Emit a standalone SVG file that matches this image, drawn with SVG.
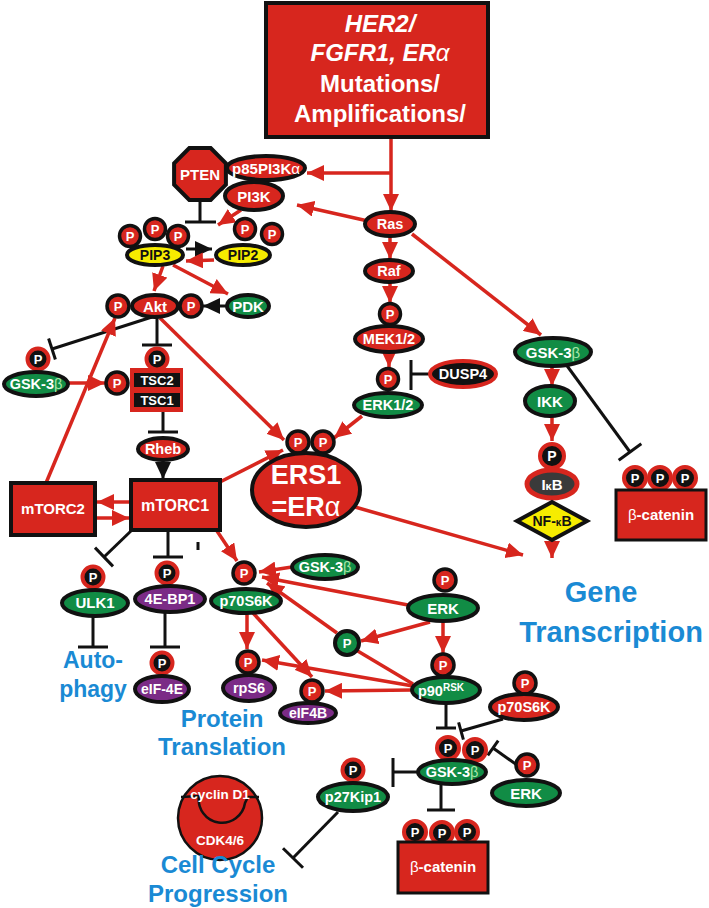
<svg xmlns="http://www.w3.org/2000/svg" width="709" height="908" viewBox="0 0 709 908">
<defs>
<marker id="ar" markerUnits="userSpaceOnUse" markerWidth="18" markerHeight="16" refX="17" refY="8" orient="auto"><path d="M0,0 L17,8 L0,16 z" fill="#d7261e"/></marker>
<marker id="ab" markerUnits="userSpaceOnUse" markerWidth="18" markerHeight="16" refX="17" refY="8" orient="auto"><path d="M0,0 L17,8 L0,16 z" fill="#111"/></marker>
<style>
.t{font-family:'Liberation Sans',Arial,sans-serif;font-weight:bold;fill:#fff;text-anchor:middle}
.k{fill:#111}
.n{font-weight:normal}
.bl{font-family:'Liberation Sans',Arial,sans-serif;font-weight:bold;fill:#1a8ad4;text-anchor:middle}
.red{fill:#d7261e;stroke:#111;stroke-width:4}
.grn{fill:#118c45;stroke:#111;stroke-width:4}
.pur{fill:#7b2b86;stroke:#111;stroke-width:4}
.yel{fill:#f6ec00;stroke:#111;stroke-width:4}
.pr{fill:#d7261e;stroke:#111;stroke-width:3.5}
.pb{fill:#111;stroke:#d7261e;stroke-width:4}
.lr{stroke:#d7261e;stroke-width:3.5;fill:none}
.lk{stroke:#111;stroke-width:3;fill:none}
</style>
</defs>
<rect width="709" height="908" fill="#fff"/>

<g id="connectors">
<line class="lr" x1="391" y1="137" x2="391" y2="211" marker-end="url(#ar)"/>
<line class="lr" x1="391" y1="173" x2="307" y2="173" marker-end="url(#ar)"/>
<line class="lr" x1="368" y1="221" x2="297" y2="205" marker-end="url(#ar)"/>
<line class="lr" x1="241" y1="210" x2="218" y2="225" marker-end="url(#ar)"/>
<line class="lk" x1="200" y1="202" x2="200" y2="222"/><line class="lk" x1="185" y1="222" x2="216" y2="222"/>
<line class="lk" x1="186" y1="249" x2="212" y2="249" stroke-width="4" marker-end="url(#ab)"/>
<line class="lr" x1="214" y1="260" x2="186" y2="261" marker-end="url(#ar)"/>
<line class="lr" x1="163" y1="266" x2="154" y2="291" marker-end="url(#ar)"/>
<line class="lr" x1="173" y1="265" x2="228" y2="294" marker-end="url(#ar)"/>
<line class="lk" x1="226" y1="306" x2="203" y2="306" marker-end="url(#ab)"/>
<line class="lk" x1="152" y1="317" x2="52" y2="349"/><line class="lk" x1="48.6" y1="338.5" x2="55.4" y2="359.5"/>
<line class="lk" x1="157" y1="318" x2="157" y2="345"/><line class="lk" x1="142" y1="345" x2="172" y2="345"/>
<line class="lr" x1="68" y1="383" x2="105" y2="383" marker-end="url(#ar)"/>
<line class="lk" x1="163" y1="412" x2="163" y2="432"/><line class="lk" x1="148" y1="432" x2="178" y2="432"/>
<line class="lk" x1="163" y1="460" x2="163" y2="479" marker-end="url(#ab)"/>
<line class="lr" x1="46" y1="483" x2="115" y2="318" marker-end="url(#ar)"/>
<line class="lr" x1="160" y1="318" x2="284" y2="440" marker-end="url(#ar)"/>
<line class="lr" x1="220" y1="482" x2="283" y2="450" marker-end="url(#ar)"/>
<line class="lr" x1="129" y1="502" x2="97" y2="502" marker-end="url(#ar)"/>
<line class="lr" x1="96" y1="518" x2="129" y2="518" marker-end="url(#ar)"/>
<line class="lr" x1="362" y1="416" x2="334" y2="438" marker-end="url(#ar)"/>
<line class="lr" x1="355" y1="507" x2="523" y2="555" marker-end="url(#ar)"/>
<line class="lr" x1="390" y1="236" x2="390" y2="259" marker-end="url(#ar)"/>
<line class="lr" x1="390" y1="282" x2="390" y2="303" marker-end="url(#ar)"/>
<line class="lr" x1="389" y1="352" x2="389" y2="367" marker-end="url(#ar)"/>
<line class="lk" x1="430" y1="374" x2="411" y2="374"/><line class="lk" x1="411" y1="360" x2="411" y2="390"/>
<line class="lr" x1="412" y1="234" x2="541" y2="335" marker-end="url(#ar)"/>
<line class="lr" x1="552" y1="366" x2="552" y2="386" marker-end="url(#ar)"/>
<line class="lk" x1="565" y1="363" x2="630" y2="452"/><line class="lk" x1="618.7" y1="460.3" x2="641.3" y2="443.7"/>
<line class="lr" x1="552" y1="416" x2="552" y2="441" marker-end="url(#ar)"/>
<line class="lr" x1="552" y1="540" x2="552" y2="558" marker-end="url(#ar)"/>
<line class="lk" x1="132" y1="530" x2="104" y2="557"/><line class="lk" x1="95" y1="547.6" x2="113" y2="566.4"/>
<line class="lk" x1="168" y1="530" x2="168" y2="557"/><line class="lk" x1="153" y1="557" x2="183" y2="557"/>
<line class="lk" x1="198" y1="542" x2="198" y2="550" stroke-width="1.5"/>
<line class="lr" x1="217" y1="531" x2="237" y2="561" marker-end="url(#ar)"/>
<line class="lr" x1="292" y1="567" x2="259" y2="572" marker-end="url(#ar)"/>
<line class="lr" x1="408" y1="605" x2="262" y2="577" marker-end="url(#ar)"/>
<line class="lr" x1="337" y1="633" x2="267" y2="583" marker-end="url(#ar)"/>
<line class="lr" x1="430" y1="622" x2="361" y2="641" marker-end="url(#ar)"/>
<line class="lr" x1="443" y1="622" x2="443" y2="653" marker-end="url(#ar)"/>
<line class="lr" x1="413" y1="684" x2="356" y2="650"/>
<line class="lr" x1="247" y1="613" x2="247" y2="649" marker-end="url(#ar)"/>
<line class="lr" x1="253" y1="613" x2="312" y2="677" marker-end="url(#ar)"/>
<line class="lr" x1="413" y1="686" x2="262" y2="660" marker-end="url(#ar)"/>
<line class="lr" x1="413" y1="690" x2="325" y2="691" marker-end="url(#ar)"/>
<line class="lk" x1="93" y1="617" x2="93" y2="647"/><line class="lk" x1="78" y1="647" x2="108" y2="647"/>
<line class="lk" x1="165" y1="612" x2="165" y2="647"/><line class="lk" x1="150" y1="647" x2="180" y2="647"/>
<line class="lk" x1="446" y1="703" x2="446" y2="728"/><line class="lk" x1="436" y1="728" x2="456" y2="728"/>
<line class="lk" x1="503" y1="719" x2="461" y2="731"/><line class="lk" x1="458.6" y1="722.4" x2="463.4" y2="739.6"/>
<line class="lk" x1="517" y1="765" x2="493" y2="748"/><line class="lk" x1="498.2" y1="740.7" x2="487.8" y2="755.3"/>
<line class="lk" x1="418" y1="772" x2="393" y2="772"/><line class="lk" x1="393" y1="758" x2="393" y2="787"/>
<line class="lk" x1="441" y1="784" x2="441" y2="810"/><line class="lk" x1="427" y1="810" x2="455" y2="810"/>
<line class="lk" x1="338" y1="812" x2="293" y2="858"/><line class="lk" x1="303" y1="867.8" x2="283" y2="848.2"/>
</g>

<g id="header">
<rect x="266" y="3" width="222" height="134" fill="#d7261e" stroke="#111" stroke-width="4"/>
<text class="t" x="380" y="32" font-size="24" font-style="italic">HER2/</text>
<text class="t" x="380" y="61" font-size="24" font-style="italic">FGFR1, ER<tspan class="n">α</tspan></text>
<text class="t" x="380" y="92" font-size="24">Mutations/</text>
<text class="t" x="380" y="122" font-size="24">Amplifications/</text>
</g>

<g id="pten">
<polygon class="red" points="225.9,184.7 210.7,199.9 189.3,199.9 174.1,184.7 174.1,163.3 189.3,148.1 210.7,148.1 225.9,163.3"/>
<text class="t" x="200" y="179.5" font-size="15">PTEN</text>
</g>
<g id="p85">
<ellipse class="red" cx="266" cy="168" rx="39" ry="12"/>
<text class="t" x="266" y="173.5" font-size="15">p85PI3K<tspan class="n">α</tspan></text>
</g>
<g id="pi3k">
<ellipse class="red" cx="254" cy="196" rx="29" ry="14"/>
<text class="t" x="254" y="201.5" font-size="15">PI3K</text>
</g>
<g id="pip3">
<circle class="pr" cx="130" cy="236" r="10.5"/><text class="t" x="130" y="240.5" font-size="13">P</text>
<circle class="pr" cx="155" cy="229" r="10.5"/><text class="t" x="155" y="233.5" font-size="13">P</text>
<circle class="pr" cx="178" cy="236" r="10.5"/><text class="t" x="178" y="240.5" font-size="13">P</text>
<ellipse class="yel" cx="155" cy="255" rx="28" ry="10"/>
<text class="t k" x="155" y="260" font-size="14">PIP3</text>
</g>
<g id="pip2">
<circle class="pr" cx="245" cy="229" r="10.5"/><text class="t" x="245" y="233.5" font-size="13">P</text>
<circle class="pr" cx="272" cy="234" r="10.5"/><text class="t" x="272" y="238.5" font-size="13">P</text>
<ellipse class="yel" cx="243" cy="255" rx="27" ry="10"/>
<text class="t k" x="243" y="260" font-size="14">PIP2</text>
</g>
<g id="akt">
<circle class="pr" cx="118" cy="306" r="11"/><text class="t" x="118" y="310.5" font-size="13">P</text>
<circle class="pr" cx="191" cy="306" r="11"/><text class="t" x="191" y="310.5" font-size="13">P</text>
<ellipse class="red" cx="155" cy="306" rx="23" ry="11"/>
<text class="t" x="155" y="311.5" font-size="15">Akt</text>
</g>
<g id="pdk">
<ellipse class="grn" cx="248" cy="306" rx="21" ry="11"/>
<text class="t" x="248" y="311.5" font-size="15">PDK</text>
</g>
<g id="gsk-left">
<circle class="pb" cx="38" cy="359" r="10.5"/><text class="t" x="38" y="363.5" font-size="13">P</text>
<ellipse class="grn" cx="36" cy="384" rx="32" ry="12"/>
<text class="t" x="36" y="389" font-size="14.5">GSK-3<tspan class="n" fill="#a8e6a8">β</tspan></text>
</g>
<g id="tsc">
<circle class="pb" cx="157" cy="359" r="10.5"/><text class="t" x="157" y="363.5" font-size="13">P</text>
<rect x="130" y="368" width="53" height="44" fill="#d7261e"/>
<rect x="134" y="373" width="46" height="14" fill="#111"/>
<rect x="134" y="393" width="46" height="14" fill="#111"/>
<text class="t" x="157" y="384.5" font-size="13">TSC2</text>
<text class="t" x="157" y="404.5" font-size="13">TSC1</text>
<circle class="pr" cx="117" cy="383" r="11"/><text class="t" x="117" y="387.5" font-size="13">P</text>
</g>
<g id="rheb">
<ellipse class="red" cx="163" cy="449" rx="25" ry="11"/>
<text class="t" x="163" y="454" font-size="14.5">Rheb</text>
</g>
<g id="mtorc1">
<rect class="red" x="131" y="480" width="89" height="50"/>
<text class="t" x="175" y="511" font-size="16">mTORC1</text>
</g>
<g id="mtorc2">
<rect class="red" x="11" y="483" width="84" height="52"/>
<text class="t" x="53" y="514" font-size="15">mTORC2</text>
</g>
<g id="ers1">
<circle class="pr" cx="298" cy="442" r="11"/><text class="t" x="298" y="446.5" font-size="13">P</text>
<circle class="pr" cx="323" cy="442" r="11"/><text class="t" x="323" y="446.5" font-size="13">P</text>
<ellipse class="red" cx="306" cy="490" rx="54" ry="37"/>
<text class="t" x="306" y="484" font-size="27">ERS1</text>
<text class="t" x="306" y="516" font-size="27">=ER<tspan class="n">α</tspan></text>
</g>
<g id="ras">
<ellipse class="red" cx="390" cy="224" rx="25" ry="12"/>
<text class="t" x="390" y="229" font-size="14.5">Ras</text>
</g>
<g id="raf">
<ellipse class="red" cx="389" cy="271" rx="24" ry="11"/>
<text class="t" x="389" y="276" font-size="14.5">Raf</text>
</g>
<g id="mek">
<circle class="pr" cx="390" cy="314" r="10.5"/><text class="t" x="390" y="318.5" font-size="13">P</text>
<ellipse class="red" cx="389" cy="339" rx="34" ry="13"/>
<text class="t" x="389" y="344" font-size="14.5">MEK1/2</text>
</g>
<g id="erk12">
<circle class="pr" cx="388" cy="379" r="10.5"/><text class="t" x="388" y="383.5" font-size="13">P</text>
<ellipse class="grn" cx="388" cy="405" rx="34" ry="12"/>
<text class="t" x="388" y="410" font-size="14.5">ERK1/2</text>
</g>
<g id="dusp4">
<ellipse cx="463" cy="374" rx="33" ry="13" fill="#111" stroke="#d7261e" stroke-width="4"/>
<text class="t" x="463" y="379" font-size="14.5">DUSP4</text>
</g>
<g id="gsk-right">
<ellipse class="grn" cx="553" cy="352" rx="38" ry="14"/>
<text class="t" x="553" y="357.5" font-size="15">GSK-3<tspan class="n" fill="#a8e6a8">β</tspan></text>
</g>
<g id="ikk">
<ellipse class="grn" cx="550" cy="401" rx="25" ry="15"/>
<text class="t" x="550" y="406.5" font-size="15">IKK</text>
</g>
<g id="ikb">
<circle class="pb" cx="552" cy="456" r="12"/><text class="t" x="552" y="461" font-size="14">P</text>
<ellipse cx="552" cy="484" rx="25" ry="14" fill="#3a3a3a" stroke="#d7261e" stroke-width="5"/>
<text class="t" x="552" y="489.5" font-size="15">I<tspan font-size="11">κ</tspan>B</text>
</g>
<g id="nfkb">
<polygon class="yel" points="552,502 587,521 552,540 517,521"/>
<text class="t k" x="552" y="526" font-size="14">NF-<tspan font-size="10">κ</tspan>B</text>
</g>
<g id="bcat-right">
<circle class="pb" cx="635" cy="478" r="11"/><text class="t" x="635" y="482.5" font-size="13">P</text>
<circle class="pb" cx="660" cy="478" r="11"/><text class="t" x="660" y="482.5" font-size="13">P</text>
<circle class="pb" cx="685" cy="478" r="11"/><text class="t" x="685" y="482.5" font-size="13">P</text>
<rect x="616" y="490" width="90" height="50" fill="#d7261e" stroke="#111" stroke-width="3"/>
<text class="t" x="661" y="520" font-size="15"><tspan class="n">β</tspan>-catenin</text>
</g>
<g id="gene-transcription">
<text class="bl" x="601" y="602" font-size="29">Gene</text>
<text class="bl" x="611" y="642" font-size="29">Transcription</text>
</g>
<g id="ulk1">
<circle class="pb" cx="93" cy="577" r="10.5"/><text class="t" x="93" y="581.5" font-size="13">P</text>
<ellipse class="grn" cx="95" cy="603" rx="33" ry="13"/>
<text class="t" x="95" y="608" font-size="15">ULK1</text>
</g>
<g id="autophagy">
<text class="bl" x="93" y="668" font-size="23">Auto-</text>
<text class="bl" x="93" y="697" font-size="23">phagy</text>
</g>
<g id="4ebp1">
<circle class="pb" cx="167" cy="573" r="10.5"/><text class="t" x="167" y="577.5" font-size="13">P</text>
<ellipse class="pur" cx="170" cy="599" rx="35" ry="13"/>
<text class="t" x="170" y="604" font-size="14.5">4E-BP1</text>
</g>
<g id="eif4e">
<circle class="pb" cx="162" cy="663" r="10.5"/><text class="t" x="162" y="667.5" font-size="13">P</text>
<ellipse class="pur" cx="162" cy="689" rx="27" ry="13"/>
<text class="t" x="162" y="694" font-size="14">eIF-4E</text>
</g>
<g id="p70s6k">
<circle class="pr" cx="244" cy="573" r="11"/><text class="t" x="244" y="577.5" font-size="13">P</text>
<ellipse class="grn" cx="246" cy="601" rx="35" ry="12"/>
<text class="t" x="246" y="606" font-size="14.5">p70S6K</text>
</g>
<g id="gsk-mid">
<ellipse class="grn" cx="325" cy="567" rx="33" ry="12"/>
<text class="t" x="325" y="572" font-size="14.5">GSK-3<tspan class="n" fill="#a8e6a8">β</tspan></text>
</g>
<g id="rps6">
<circle class="pr" cx="248" cy="662" r="11"/><text class="t" x="248" y="666.5" font-size="13">P</text>
<ellipse class="pur" cx="249" cy="688" rx="26" ry="13"/>
<text class="t" x="249" y="693" font-size="14.5">rpS6</text>
</g>
<g id="eif4b">
<circle class="pr" cx="312" cy="691" r="11"/><text class="t" x="312" y="695.5" font-size="13">P</text>
<ellipse class="pur" cx="308" cy="713" rx="28" ry="10"/>
<text class="t" x="308" y="718" font-size="14">eIF4B</text>
</g>
<g id="protein-translation">
<text class="bl" x="222" y="727" font-size="24">Protein</text>
<text class="bl" x="222" y="755" font-size="24">Translation</text>
</g>
<g id="erk-mid">
<circle class="pr" cx="445" cy="580" r="11"/><text class="t" x="445" y="584.5" font-size="13">P</text>
<ellipse class="grn" cx="443" cy="608" rx="35" ry="13"/>
<text class="t" x="443" y="613.5" font-size="15">ERK</text>
</g>
<g id="p-green">
<circle class="grn" cx="347" cy="643" r="12"/><text class="t" x="347" y="647.5" font-size="13">P</text>
</g>
<g id="p90rsk">
<circle class="pr" cx="443" cy="665" r="11"/><text class="t" x="443" y="669.5" font-size="13">P</text>
<ellipse class="grn" cx="446" cy="690" rx="34" ry="13"/>
<text class="t" x="441" y="695.5" font-size="14.5">p90<tspan font-size="10" dy="-5">RSK</tspan></text>
</g>
<g id="p70s6k-right">
<circle class="pr" cx="525" cy="683" r="11"/><text class="t" x="525" y="687.5" font-size="13">P</text>
<ellipse class="red" cx="524" cy="707" rx="34" ry="13"/>
<text class="t" x="524" y="712" font-size="14.5">p70S6K</text>
</g>
<g id="gsk-bottom">
<circle class="pb" cx="448" cy="748" r="11"/><text class="t" x="448" y="752.5" font-size="13">P</text>
<circle class="pb" cx="475" cy="750" r="11"/><text class="t" x="475" y="754.5" font-size="13">P</text>
<ellipse class="grn" cx="452" cy="772" rx="34" ry="12"/>
<text class="t" x="452" y="777" font-size="14.5">GSK-3<tspan class="n" fill="#a8e6a8">β</tspan></text>
</g>
<g id="erk-bottom">
<circle class="pr" cx="527" cy="765" r="11"/><text class="t" x="527" y="769.5" font-size="13">P</text>
<ellipse class="grn" cx="526" cy="793" rx="34" ry="13"/>
<text class="t" x="526" y="798.5" font-size="15">ERK</text>
</g>
<g id="bcat-bottom">
<circle class="pb" cx="415" cy="832" r="11"/><text class="t" x="415" y="836.5" font-size="13">P</text>
<circle class="pb" cx="442" cy="833" r="11"/><text class="t" x="442" y="837.5" font-size="13">P</text>
<circle class="pb" cx="467" cy="832" r="11"/><text class="t" x="467" y="836.5" font-size="13">P</text>
<rect x="398" y="842" width="90" height="51" fill="#d7261e" stroke="#111" stroke-width="3"/>
<text class="t" x="443" y="872" font-size="15"><tspan class="n">β</tspan>-catenin</text>
</g>
<g id="p27kip1">
<circle class="pb" cx="353" cy="770" r="10.5"/><text class="t" x="353" y="774.5" font-size="13">P</text>
<ellipse class="grn" cx="353" cy="797" rx="35" ry="14"/>
<text class="t" x="353" y="802" font-size="14.5">p27Kip1</text>
</g>
<g id="cyclin">
<circle cx="220" cy="818" r="42" fill="#d7261e" stroke="#111" stroke-width="2.5"/>
<path d="M181,797 L199,796 A22,22 0 1 0 245,803 L248,797 L259,797" fill="none" stroke="#111" stroke-width="2.5"/>
<text class="t" x="220" y="799" font-size="13.5">cyclin D1</text>
<text class="t" x="220" y="845" font-size="13.5">CDK4/6</text>
</g>
<g id="cell-cycle">
<text class="bl" x="218" y="873" font-size="24">Cell Cycle</text>
<text class="bl" x="218" y="902" font-size="24">Progression</text>
</g>
</svg>
